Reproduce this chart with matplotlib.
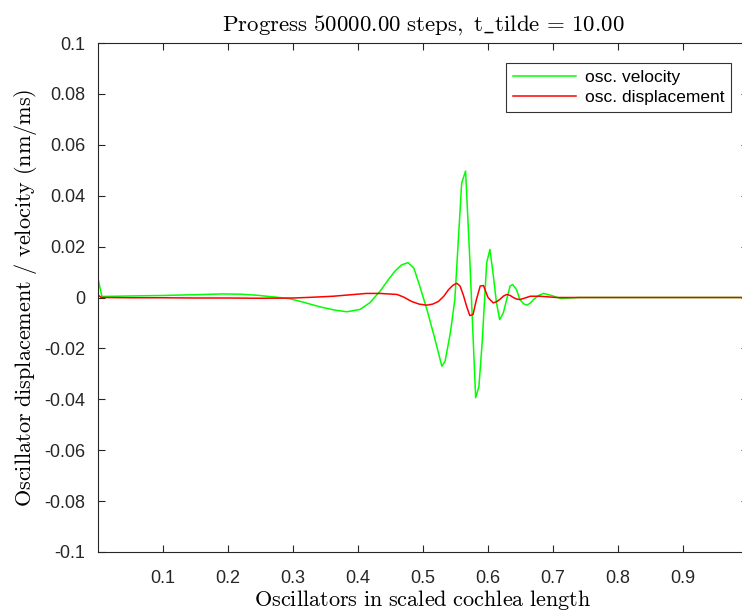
import matplotlib
matplotlib.use("Agg")
import matplotlib.pyplot as plt
import numpy as np

plt.rcParams['mathtext.fontset'] = 'cm'

# Oscillator positions (scaled cochlea length) and read values
vel_x = [0.0, 0.006, 0.05, 0.10, 0.15, 0.19, 0.22, 0.244, 0.275, 0.295, 0.311,
         0.342, 0.365, 0.383, 0.403, 0.418, 0.434, 0.447, 0.457, 0.467, 0.477,
         0.486, 0.495, 0.506, 0.518, 0.529, 0.534, 0.542, 0.549, 0.5595, 0.5655,
         0.572, 0.581, 0.586, 0.591, 0.598, 0.603, 0.608, 0.613, 0.618, 0.6236,
         0.629, 0.634, 0.638, 0.644, 0.649, 0.655, 0.660, 0.665, 0.670, 0.678,
         0.685, 0.695, 0.706, 0.711, 0.72, 0.74, 0.80, 0.90, 1.0]
vel_y = [0.0075, 0.0004, 0.0006, 0.0008, 0.0011, 0.0014, 0.0013, 0.0009, 0.0001,
         -0.0005, -0.0015, -0.0037, -0.0050, -0.0056, -0.0047, -0.0021, 0.0025,
         0.0071, 0.0104, 0.0128, 0.0137, 0.0115, 0.0045, -0.0047, -0.0160,
         -0.0270, -0.0250, -0.0140, -0.0008, 0.0450, 0.0497, 0.0150, -0.0394,
         -0.0350, -0.0178, 0.0137, 0.0189, 0.0090, -0.0020, -0.0087, -0.0060,
         -0.0005, 0.0045, 0.0051, 0.0030, -0.0008, -0.0025, -0.0030, -0.0022,
         -0.0008, 0.0008, 0.0016, 0.0010, 0.0001, -0.0004, -0.0003, 0.0, 0.0,
         0.0, 0.0]

disp_x = [0.0, 0.005, 0.05, 0.10, 0.15, 0.20, 0.25, 0.30, 0.33, 0.362, 0.39,
          0.413, 0.434, 0.447, 0.46, 0.47, 0.482, 0.494, 0.506, 0.515, 0.524,
          0.532, 0.539, 0.546, 0.552, 0.557, 0.562, 0.567, 0.572, 0.577, 0.582,
          0.588, 0.593, 0.600, 0.608, 0.613, 0.618, 0.624, 0.629, 0.634, 0.639,
          0.644, 0.649, 0.657, 0.665, 0.680, 0.705, 0.75, 0.85, 1.0]
disp_y = [0.0010, 0.0, -0.0001, -0.0001, -0.0002, -0.0002, -0.0003, -0.0002,
          0.0001, 0.0005, 0.0011, 0.0016, 0.0016, 0.0014, 0.0012, 0.0002,
          -0.0015, -0.0026, -0.0030, -0.0026, -0.0015, 0.0005, 0.0030, 0.0048,
          0.0056, 0.0045, 0.0010, -0.0034, -0.0071, -0.0067, -0.0010, 0.0045,
          0.0047, 0.0000, -0.0021, -0.0017, -0.0008, 0.0006, 0.0012, 0.0008,
          0.0000, -0.0006, -0.0008, -0.0002, 0.0005, 0.0005, 0.0, 0.0, 0.0, 0.0]

xticks = [0.1, 0.2, 0.3, 0.4, 0.5, 0.6, 0.7, 0.8, 0.9]
xtick_labels = ['0.1', '0.2', '0.3', '0.4', '0.5', '0.6', '0.7', '0.8', '0.9']
yticks = [0.1, 0.08, 0.06, 0.04, 0.02, 0.0, -0.02, -0.04, -0.06, -0.08, -0.1]
ytick_labels = ['0.1', '0.08', '0.06', '0.04', '0.02', '0', '-0.02', '-0.04',
                '-0.06', '-0.08', '-0.1']

W, H = 742, 613
fig = plt.figure(figsize=(W / 100, H / 100), dpi=100)
ax_left, ax_right = 98, 748
ax_top, ax_bottom = 43, 552
ax = fig.add_axes([ax_left / W, 1 - ax_bottom / H, (ax_right - ax_left) / W,
                   (ax_bottom - ax_top) / H])

ax.plot(vel_x, vel_y, color=(0, 1, 0), lw=1.1, label='osc. velocity')
ax.plot(disp_x, disp_y, color=(1, 0, 0), lw=1.1, label='osc. displacement')

ax.set_xlim(0, 1)
ax.set_ylim(-0.1, 0.1)
ax.set_xticks(xticks)
ax.set_xticklabels(xtick_labels)
ax.set_yticks(yticks)
ax.set_yticklabels(ytick_labels)

for lab in ax.get_xticklabels() + ax.get_yticklabels():
    lab.set_fontfamily('Liberation Sans')
    lab.set_fontsize(13)
    lab.set_color('#262626')

ax.tick_params(direction='in', length=5, width=0.8, color='#262626',
               top=True, right=True)
ax.tick_params(axis='y', pad=9)
ax.tick_params(axis='x', pad=13)
for s in ax.spines.values():
    s.set_color('#262626')
    s.set_linewidth(0.8)

ax.set_title(r'$\mathrm{Progress\ 50000.00\ steps,\ t\_tilde\,=\,10.00}$',
             fontsize=16.5, pad=9)
ax.set_xlabel(r'$\mathrm{Oscillators\ in\ scaled\ cochlea\ length}$',
              fontsize=16, labelpad=1)
ax.set_ylabel(r'$\mathrm{Oscillator\ displacement\ /\ velocity\ (nm/ms)}$',
              fontsize=16, labelpad=4)

leg = ax.legend(loc='upper right', bbox_to_anchor=(731 / W, 1 - 63 / H),
                bbox_transform=fig.transFigure, frameon=True, fancybox=False,
                prop={'family': 'Liberation Sans', 'size': 12.5},
                borderaxespad=0, handlelength=3.6, handletextpad=0.5,
                labelspacing=0.3, borderpad=0.4)
leg.get_frame().set_edgecolor('black')
leg.get_frame().set_linewidth(0.8)

fig.savefig('out.png', dpi=100)
